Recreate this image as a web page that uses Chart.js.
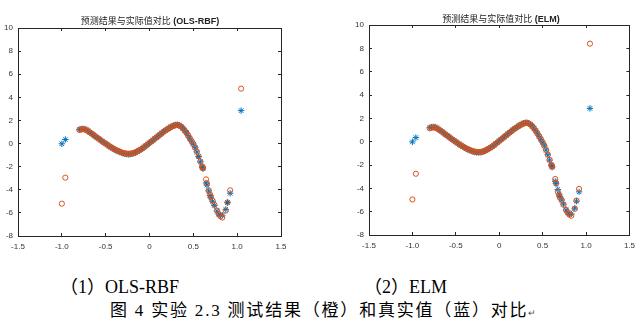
<!DOCTYPE html>
<html>
<head>
<meta charset="utf-8">
<script src="https://cdn.jsdelivr.net/npm/chart.js@4.4.1/dist/chart.umd.min.js"></script>
<style>
  html,body{margin:0;padding:0;background:#fff;}
  body{width:644px;height:324px;position:relative;overflow:hidden;}
  canvas{position:absolute;}
  .ttl{position:absolute;width:220px;text-align:center;font-size:9px;line-height:10px;color:#222;white-space:nowrap;
       font-family:"Liberation Sans","Noto Sans CJK SC",sans-serif;}
  .ttl .cn{font-weight:normal;}
  .ttl .en{font-weight:bold;}
  .cap{position:absolute;white-space:nowrap;color:#000;font-family:"Liberation Serif","Noto Sans CJK SC",serif;}
</style>
</head>
<body>
<canvas id="c1" width="300" height="252" style="left:0;top:0"></canvas>
<canvas id="c2" width="304" height="251" style="left:340px;top:0"></canvas>
<div class="ttl" style="left:40px;top:16px"><span class="cn">预测结果与实际值对比</span><span class="en"> (OLS-RBF)</span></div>
<div class="ttl" style="left:391px;top:14px"><span class="cn">预测结果与实际值对比</span><span class="en"> (ELM)</span></div>
<div class="cap" style="left:60px;top:277px;font-size:18px;line-height:20px">（1）OLS-RBF</div>
<div class="cap" style="left:364px;top:277px;font-size:18px;line-height:20px">（2）ELM</div>
<div class="cap" style="left:110px;top:301px;font-size:17px;line-height:19px;letter-spacing:1.8px">图 4 实验 2.3 测试结果（橙）和真实值（蓝）对比<span style="font-size:9px;color:#555;letter-spacing:0">↵</span></div>
<script>
const xTicks = [-1.5, -1, -0.5, 0, 0.5, 1, 1.5];
const yTicks = [-8, -6, -4, -2, 0, 2, 4, 6, 8, 10];

const xValues = [
  -1.00, -0.96,
  -0.80, -0.78, -0.76, -0.74, -0.72, -0.70, -0.68, -0.66, -0.64, -0.62,
  -0.60, -0.58, -0.56, -0.54, -0.52, -0.50, -0.48, -0.46, -0.44, -0.42,
  -0.40, -0.38, -0.36, -0.34, -0.32, -0.30, -0.28, -0.26, -0.24, -0.22,
  -0.20, -0.18, -0.16, -0.14, -0.12, -0.10, -0.08, -0.06, -0.04, -0.02,
   0.00,  0.02,  0.04,  0.06,  0.08,  0.10,  0.12,  0.14,  0.16,  0.18,
   0.20,  0.22,  0.24,  0.26,  0.28,  0.30,  0.32,  0.34,  0.36,  0.38,
   0.40,  0.42,  0.44,  0.46,  0.48,  0.50,  0.52,  0.54,  0.56,  0.58,
   0.60,
   0.605, 0.61, 0.645, 0.655, 0.675, 0.69, 0.70, 0.72, 0.74, 0.77,
   0.79, 0.81, 0.83, 0.87, 0.89, 0.92,
   1.045
];

const yTrue = [
  -0.02, 0.35,
   1.20, 1.25, 1.27, 1.25, 1.18, 1.08, 0.97, 0.86, 0.75, 0.63,
   0.52, 0.41, 0.30, 0.19, 0.08, -0.02, -0.12, -0.22, -0.32, -0.41,
  -0.50, -0.58, -0.66, -0.73, -0.80, -0.85, -0.89, -0.92, -0.93, -0.92,
  -0.89, -0.84, -0.78, -0.70, -0.61, -0.52, -0.41, -0.30, -0.18, -0.06,
   0.06, 0.18, 0.30, 0.42, 0.54, 0.66, 0.78, 0.90, 1.02, 1.13,
   1.24, 1.34, 1.43, 1.51, 1.58, 1.62, 1.63, 1.58, 1.48, 1.33,
   1.15, 0.94, 0.71, 0.46, 0.21, -0.05, -0.36, -0.72, -1.12, -1.58,
  -2.02,
  -2.10, -2.18, -3.40, -3.60, -4.10, -4.50, -4.70, -5.00, -5.35, -5.85,
  -6.10, -6.20, -6.20, -5.70, -5.10, -4.30,
   2.85
];

const yPredRBF = [
  -5.20, -2.95,
   1.18, 1.22, 1.24, 1.23, 1.17, 1.08, 0.97, 0.86, 0.75, 0.64,
   0.53, 0.42, 0.31, 0.20, 0.09, -0.01, -0.11, -0.21, -0.30, -0.39,
  -0.48, -0.56, -0.63, -0.70, -0.76, -0.81, -0.85, -0.87, -0.88, -0.87,
  -0.85, -0.81, -0.75, -0.68, -0.60, -0.51, -0.41, -0.30, -0.19, -0.07,
   0.05, 0.17, 0.29, 0.41, 0.53, 0.65, 0.77, 0.89, 1.01, 1.12,
   1.22, 1.32, 1.41, 1.49, 1.55, 1.59, 1.60, 1.56, 1.47, 1.33,
   1.15, 0.94, 0.71, 0.46, 0.21, -0.04, -0.35, -0.70, -1.10, -1.55,
  -1.98,
  -2.05, -2.12, -3.10, -3.45, -4.05, -4.40, -4.60, -4.95, -5.30, -5.80,
  -6.10, -6.30, -6.40, -5.80, -5.10, -4.05,
   4.75
];

const yPredELM = [
  -4.95, -2.75,
   1.15, 1.20, 1.22, 1.21, 1.15, 1.06, 0.96, 0.85, 0.74, 0.63,
   0.52, 0.41, 0.30, 0.19, 0.08, -0.02, -0.12, -0.22, -0.31, -0.40,
  -0.49, -0.57, -0.64, -0.71, -0.77, -0.82, -0.86, -0.88, -0.89, -0.88,
  -0.86, -0.82, -0.76, -0.69, -0.60, -0.51, -0.41, -0.30, -0.18, -0.06,
   0.06, 0.18, 0.30, 0.42, 0.54, 0.66, 0.78, 0.90, 1.01, 1.12,
   1.22, 1.32, 1.41, 1.49, 1.55, 1.59, 1.60, 1.56, 1.47, 1.33,
   1.15, 0.94, 0.71, 0.46, 0.21, -0.05, -0.36, -0.71, -1.11, -1.56,
  -2.00,
  -2.05, -2.15, -3.20, -3.55, -4.30, -4.60, -4.80, -5.00, -5.40, -5.85,
  -6.10, -6.25, -6.35, -5.75, -5.05, -4.05,
   8.40
];

const BLUE = '#0072BD';
const ORANGE = '#D95319';
const AXIS = '#262626';

function pts(ys) { return xValues.map((x, i) => ({ x: x, y: ys[i] })); }

const labelFont = { size: 8, family: 'Liberation Sans' };
const tickGrid = { display: true, drawOnChartArea: false, drawTicks: true, tickLength: -3,
                   color: AXIS, tickColor: AXIS, lineWidth: 1, tickWidth: 1 };
const boxBorder = { display: true, color: AXIS, width: 1 };

function makeChart(id, preds, yAxisWidth, pad) {
  return new Chart(document.getElementById(id), {
    type: 'scatter',
    data: {
      datasets: [
        { label: '预测', data: pts(preds), order: 0, pointStyle: 'circle', radius: 2.6,
          borderColor: ORANGE, backgroundColor: 'rgba(0,0,0,0)', borderWidth: 1, pointHoverRadius: 2.6 },
        { label: '真实', data: pts(yTrue), order: 1, pointStyle: 'star', radius: 3.2,
          borderColor: BLUE, backgroundColor: BLUE, borderWidth: 1, pointHoverRadius: 3.2 }
      ]
    },
    options: {
      responsive: false, animation: false, devicePixelRatio: 1,
      layout: { padding: pad },
      plugins: { legend: { display: false }, tooltip: { enabled: false } },
      scales: {
        x: {
          type: 'linear', position: 'bottom', min: -1.5, max: 1.5, z: 1,
          afterBuildTicks: s => { s.ticks = xTicks.map(v => ({ value: v })); },
          afterFit: s => { s.height = 16; },
          grid: tickGrid, border: boxBorder,
          ticks: { font: labelFont, color: '#333', padding: 9, maxRotation: 0, autoSkip: false }
        },
        x2: {
          type: 'linear', position: 'top', axis: 'x', min: -1.5, max: 1.5, z: 1,
          afterBuildTicks: s => { s.ticks = xTicks.map(v => ({ value: v })); },
          afterFit: s => { s.height = 0; },
          grid: tickGrid, border: boxBorder,
          ticks: { display: false }
        },
        y: {
          type: 'linear', position: 'left', min: -8, max: 10, z: 1,
          afterBuildTicks: s => { s.ticks = yTicks.map(v => ({ value: v })); },
          afterFit: s => { s.width = yAxisWidth; },
          grid: tickGrid, border: boxBorder,
          ticks: { font: labelFont, color: '#333', padding: 8, autoSkip: false }
        },
        y2: {
          type: 'linear', position: 'right', axis: 'y', min: -8, max: 10, z: 1,
          afterBuildTicks: s => { s.ticks = yTicks.map(v => ({ value: v })); },
          afterFit: s => { s.width = 0; },
          grid: tickGrid, border: boxBorder,
          ticks: { display: false }
        }
      }
    }
  });
}

makeChart('c1', yPredRBF, 18, { top: 28, right: 19, bottom: 0, left: 0 });
makeChart('c2', yPredELM, 29, { top: 25, right: 10, bottom: 0, left: 0 });
</script>
</body>
</html>
